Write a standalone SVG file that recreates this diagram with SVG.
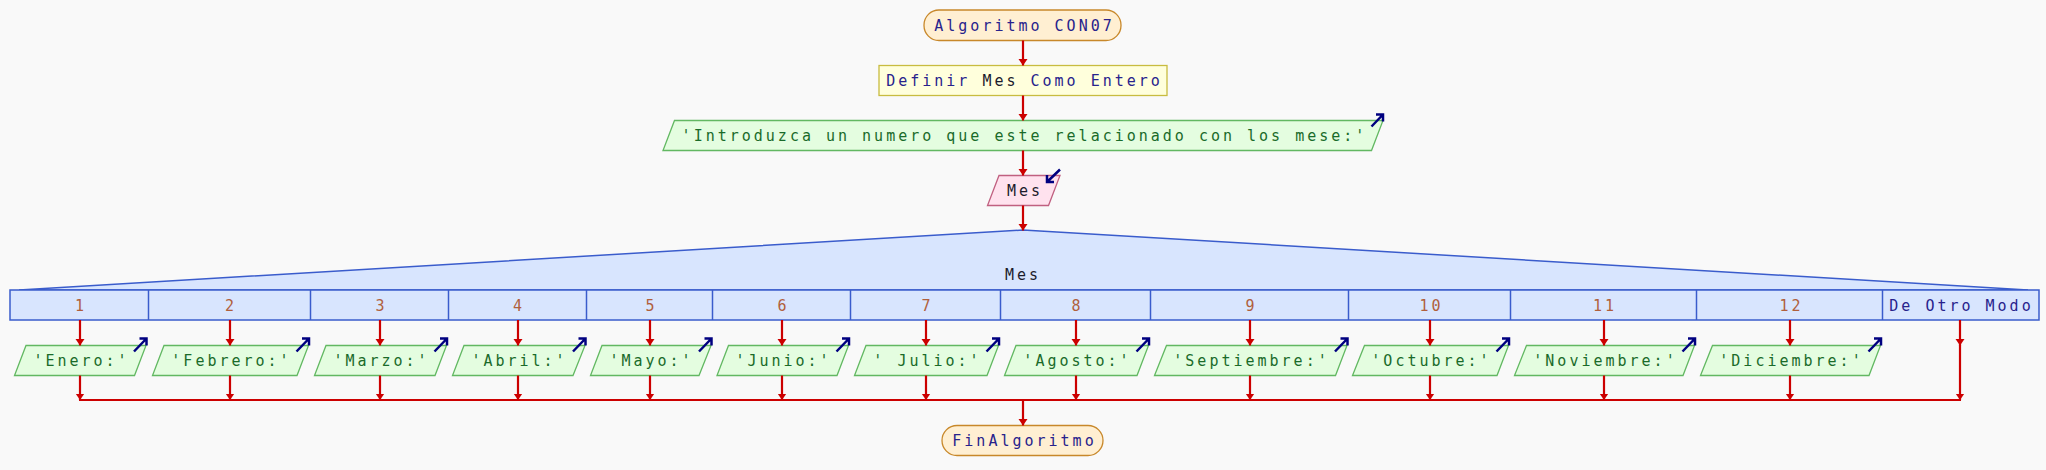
<svg xmlns="http://www.w3.org/2000/svg" width="2046" height="470" viewBox="0 0 2046 470">
<defs>
<marker id="ah" markerUnits="userSpaceOnUse" markerWidth="7" markerHeight="10" refX="6.5" refY="5" orient="auto" viewBox="0 0 7 10">
<path d="M0,0.5 L6.5,5 L0,9.5 Z" fill="#cc0000"/>
</marker>
<style>
text{font-family:"DejaVu Sans Mono","Liberation Mono",monospace;font-size:15px;letter-spacing:3px;text-anchor:middle}
.term{fill:#ffefd2;stroke:#c8882a;stroke-width:1.3}
.def{fill:#ffffdc;stroke:#c8bc40;stroke-width:1.3}
.out{fill:#e4fde0;stroke:#62b862;stroke-width:1.3}
.in{fill:#ffe2ee;stroke:#c06080;stroke-width:1.3}
.sw{fill:#d8e5fe;stroke:#3a5ccc;stroke-width:1.5}
.kw{fill:#28238c}
.id{fill:#1c1c2c}
.str{fill:#1a6b2a}
.num{fill:#b0603c}
.ico{fill:none;stroke:#000080;stroke-width:2.5}
.c line{stroke:#cc0000;stroke-width:2.2;fill:none}
.a{marker-end:url(#ah)}
</style>
</defs>
<rect width="2046" height="470" fill="#f9f9f9"/>

<g id="start">
<rect class="term" x="924" y="10" width="197" height="30.5" rx="15"/>
<text x="1024.5" y="30.5" class="kw">Algoritmo CON07</text>
</g>

<g id="definir">
<rect class="def" x="879" y="65.5" width="288" height="30"/>
<text x="1024.5" y="85.5" class="kw">Definir <tspan class="id">Mes</tspan> Como Entero</text>
</g>

<g id="escribir">
<polygon class="out" points="674.5,120.5 1383,120.5 1371.5,150.5 663,150.5"/>
<text x="1024.5" y="141" class="str">'Introduzca un numero que este relacionado con los mese:'</text>
<path class="ico" d="M1371.5,126.5 L1383,114.5 M1376,114.5 L1383,114.5 L1383,121.5"/>
</g>

<g id="leer">
<polygon class="in" points="999,175.5 1060,175.5 1048.5,205.5 987.5,205.5"/>
<text x="1025" y="196" class="id">Mes</text>
<path class="ico" d="M1060,169.5 L1047,182 M1047,175 L1047,182 L1054,182"/>
</g>

<g id="segun">
<polygon class="sw" points="19,290 1023,230 2028,290"/>
<rect class="sw" x="10" y="290" width="2029" height="30"/>
<g fill="none" stroke="#3a5ccc" stroke-width="1.5">
<line x1="148.5" y1="290" x2="148.5" y2="320"/>
<line x1="310.5" y1="290" x2="310.5" y2="320"/>
<line x1="448.5" y1="290" x2="448.5" y2="320"/>
<line x1="586.5" y1="290" x2="586.5" y2="320"/>
<line x1="712.5" y1="290" x2="712.5" y2="320"/>
<line x1="850.5" y1="290" x2="850.5" y2="320"/>
<line x1="1000.5" y1="290" x2="1000.5" y2="320"/>
<line x1="1150.5" y1="290" x2="1150.5" y2="320"/>
<line x1="1348.5" y1="290" x2="1348.5" y2="320"/>
<line x1="1510.5" y1="290" x2="1510.5" y2="320"/>
<line x1="1696.5" y1="290" x2="1696.5" y2="320"/>
<line x1="1882.5" y1="290" x2="1882.5" y2="320"/>
</g>
<text x="1023" y="280" class="id">Mes</text>
<text x="81" y="310.5" class="num">1</text>
<text x="231" y="310.5" class="num">2</text>
<text x="381.5" y="310.5" class="num">3</text>
<text x="519" y="310.5" class="num">4</text>
<text x="651.5" y="310.5" class="num">5</text>
<text x="783.5" y="310.5" class="num">6</text>
<text x="927.5" y="310.5" class="num">7</text>
<text x="1077.5" y="310.5" class="num">8</text>
<text x="1251.5" y="310.5" class="num">9</text>
<text x="1431.5" y="310.5" class="num">10</text>
<text x="1605" y="310.5" class="num">11</text>
<text x="1791.5" y="310.5" class="num">12</text>
<text x="1961.5" y="310.5" class="kw">De Otro Modo</text>
</g>

<g id="case1"><polygon class="out" points="26,345.5 146,345.5 134.5,375.5 14.5,375.5"/><text x="81.5" y="366" class="str">'Enero:'</text><path class="ico" d="M134,351.5 L146.5,338.5 M139.5,338.5 L146.5,338.5 L146.5,345.5"/></g>
<g id="case2"><polygon class="out" points="164,345.5 308.5,345.5 297,375.5 152.5,375.5"/><text x="231.5" y="366" class="str">'Febrero:'</text><path class="ico" d="M296.5,351.5 L309,338.5 M302,338.5 L309,338.5 L309,345.5"/></g>
<g id="case3"><polygon class="out" points="326,345.5 446.5,345.5 435,375.5 314.5,375.5"/><text x="381.5" y="366" class="str">'Marzo:'</text><path class="ico" d="M434.5,351.5 L447,338.5 M440,338.5 L447,338.5 L447,345.5"/></g>
<g id="case4"><polygon class="out" points="464,345.5 585,345.5 573,375.5 452.5,375.5"/><text x="519.5" y="366" class="str">'Abril:'</text><path class="ico" d="M573,351.5 L585.5,338.5 M578.5,338.5 L585.5,338.5 L585.5,345.5"/></g>
<g id="case5"><polygon class="out" points="602,345.5 711,345.5 699,375.5 590.5,375.5"/><text x="651.5" y="366" class="str">'Mayo:'</text><path class="ico" d="M699,351.5 L711.5,338.5 M704.5,338.5 L711.5,338.5 L711.5,345.5"/></g>
<g id="case6"><polygon class="out" points="728.5,345.5 848.5,345.5 837,375.5 717,375.5"/><text x="783.5" y="366" class="str">'Junio:'</text><path class="ico" d="M836.5,351.5 L849,338.5 M842,338.5 L849,338.5 L849,345.5"/></g>
<g id="case7"><polygon class="out" points="866,345.5 998.5,345.5 987,375.5 854.5,375.5"/><text x="927.5" y="366" class="str">' Julio:'</text><path class="ico" d="M986.5,351.5 L999,338.5 M992,338.5 L999,338.5 L999,345.5"/></g>
<g id="case8"><polygon class="out" points="1016,345.5 1148.5,345.5 1137,375.5 1004.5,375.5"/><text x="1077.5" y="366" class="str">'Agosto:'</text><path class="ico" d="M1136.5,351.5 L1149,338.5 M1142,338.5 L1149,338.5 L1149,345.5"/></g>
<g id="case9"><polygon class="out" points="1166.5,345.5 1347,345.5 1335.5,375.5 1154.5,375.5"/><text x="1251.5" y="366" class="str">'Septiembre:'</text><path class="ico" d="M1335,351.5 L1347.5,338.5 M1340.5,338.5 L1347.5,338.5 L1347.5,345.5"/></g>
<g id="case10"><polygon class="out" points="1364.5,345.5 1508.5,345.5 1497,375.5 1352.5,375.5"/><text x="1431.5" y="366" class="str">'Octubre:'</text><path class="ico" d="M1496.5,351.5 L1509,338.5 M1502,338.5 L1509,338.5 L1509,345.5"/></g>
<g id="case11"><polygon class="out" points="1526.5,345.5 1694.5,345.5 1683,375.5 1514.5,375.5"/><text x="1605.5" y="366" class="str">'Noviembre:'</text><path class="ico" d="M1682.5,351.5 L1695,338.5 M1688,338.5 L1695,338.5 L1695,345.5"/></g>
<g id="case12"><polygon class="out" points="1712.5,345.5 1880.5,345.5 1869,375.5 1700.5,375.5"/><text x="1791.5" y="366" class="str">'Diciembre:'</text><path class="ico" d="M1868.5,351.5 L1881,338.5 M1874,338.5 L1881,338.5 L1881,345.5"/></g>

<g id="end">
<rect class="term" x="942" y="425.5" width="161" height="30" rx="15"/>
<text x="1024.5" y="446" class="kw">FinAlgoritmo</text>
</g>

<g id="connectors" class="c">
<line class="a" x1="1023" y1="40.5" x2="1023" y2="65.5"/>
<line class="a" x1="1023" y1="95.5" x2="1023" y2="120.5"/>
<line class="a" x1="1023" y1="150.5" x2="1023" y2="175.5"/>
<line class="a" x1="1023" y1="205.5" x2="1023" y2="230.5"/>
<line class="a" x1="80" y1="320" x2="80" y2="345.5"/>
<line class="a" x1="230" y1="320" x2="230" y2="345.5"/>
<line class="a" x1="380" y1="320" x2="380" y2="345.5"/>
<line class="a" x1="518" y1="320" x2="518" y2="345.5"/>
<line class="a" x1="650" y1="320" x2="650" y2="345.5"/>
<line class="a" x1="782" y1="320" x2="782" y2="345.5"/>
<line class="a" x1="926" y1="320" x2="926" y2="345.5"/>
<line class="a" x1="1076" y1="320" x2="1076" y2="345.5"/>
<line class="a" x1="1250" y1="320" x2="1250" y2="345.5"/>
<line class="a" x1="1430" y1="320" x2="1430" y2="345.5"/>
<line class="a" x1="1604" y1="320" x2="1604" y2="345.5"/>
<line class="a" x1="1790" y1="320" x2="1790" y2="345.5"/>
<line class="a" x1="1960" y1="320" x2="1960" y2="345.5"/>
<line class="a" x1="1960" y1="345" x2="1960" y2="400"/>
<line class="a" x1="80" y1="375.5" x2="80" y2="400"/>
<line class="a" x1="230" y1="375.5" x2="230" y2="400"/>
<line class="a" x1="380" y1="375.5" x2="380" y2="400"/>
<line class="a" x1="518" y1="375.5" x2="518" y2="400"/>
<line class="a" x1="650" y1="375.5" x2="650" y2="400"/>
<line class="a" x1="782" y1="375.5" x2="782" y2="400"/>
<line class="a" x1="926" y1="375.5" x2="926" y2="400"/>
<line class="a" x1="1076" y1="375.5" x2="1076" y2="400"/>
<line class="a" x1="1250" y1="375.5" x2="1250" y2="400"/>
<line class="a" x1="1430" y1="375.5" x2="1430" y2="400"/>
<line class="a" x1="1604" y1="375.5" x2="1604" y2="400"/>
<line class="a" x1="1790" y1="375.5" x2="1790" y2="400"/>
<line x1="79" y1="400" x2="1961" y2="400"/>
<line class="a" x1="1023" y1="400" x2="1023" y2="425.5"/>
</g>
</svg>
